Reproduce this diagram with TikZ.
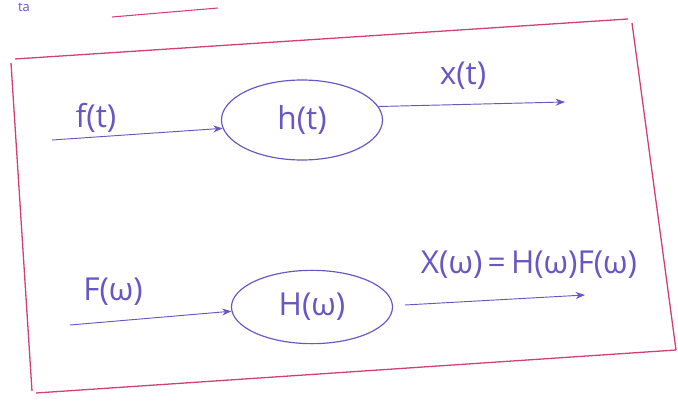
\documentclass[tikz,border=0pt]{standalone}
\usepackage{fontspec}
\setmainfont{Open Sans}
\usetikzlibrary{shapes.geometric,arrows.meta}
\definecolor{ink}{RGB}{105,85,195}
\definecolor{redpen}{RGB}{212,62,112}

\begin{document}
\begin{tikzpicture}[x=0.03cm, y=-0.03cm, line width=0.9pt,
  pen/.style={draw=redpen, line width=1.1pt},
  blk/.style={ellipse, draw=ink, text=ink, line width=1pt, inner sep=0pt,
    font=\fontsize{27}{30}\selectfont},
  lbl/.style={text=ink, font=\fontsize{27}{30}\selectfont, inner sep=1.5pt},
  sig/.style={draw=ink, line width=0.8pt, -{Stealth[length=8pt,width=6pt]}}]
  \clip (0,0) rectangle (678,404);
  % frame
  \draw[pen] (15,59) -- (628,19);
  \draw[pen] (632,23) -- (676,350);
  \draw[pen] (676,350) -- (36,393);
  \draw[pen] (11,63) -- (32,391);
  % cut-off heading
  \node[lbl, font=\fontsize{11}{12}\selectfont, inner sep=0pt] (ta) at (24,7) {ta};
  \draw[pen, line width=0.9pt] (112,17) -- (218,8);
  % time domain
  \node[blk, minimum width=4.83cm, minimum height=2.4cm] (h) at (302,120) {h(t)};
  \coordinate (fin) at (52,140);
  \coordinate (xout) at (565,102);
  \draw[sig] (fin) -- (h.186);
  \draw[sig] (h.10) -- (xout);
  \node[lbl] (f) at (96,118) {f(t)};
  \node[lbl] (x) at (463,76) {x(t)};
  % frequency domain
  \node[blk, minimum width=4.83cm, minimum height=2.2cm] (H) at (312,307) {H(ω)};
  \coordinate (Fin) at (70,325);
  \coordinate (Xout) at (585,295);
  \draw[sig] (Fin) -- (H.183);
  \draw[sig] (405,305) -- (Xout);
  \node[lbl] (F) at (113,292) {F(ω)};
  \node[lbl] (X) at (529,265) {X(ω)\,=\,H(ω)F(ω)};
\end{tikzpicture}
\end{document}
